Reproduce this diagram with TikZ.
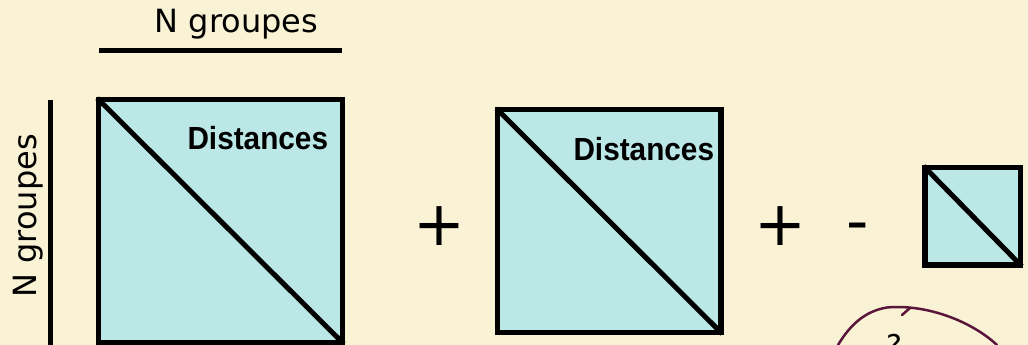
\documentclass[tikz,border=0pt]{standalone}
\usepackage{fontspec}
\setmainfont{DejaVu Sans}
\newfontfamily\helv{Liberation Sans}
\definecolor{bgcream}{RGB}{250,242,212}
\definecolor{cellfill}{RGB}{187,231,231}
\definecolor{penink}{RGB}{90,22,58}
\begin{document}
\begin{tikzpicture}[x=1pt,y=-1pt,
  matbox/.style={draw=black, fill=cellfill, line width=5.5pt, inner sep=0pt, line join=miter},
  diag/.style={line width=5pt, line cap=butt, shorten <=2pt, shorten >=2pt},
  axisline/.style={line width=5pt},
  lbl/.style={font=\fontsize{32}{32}\selectfont, inner sep=0pt, anchor=base},
  dist/.style={font=\helv\bfseries\fontsize{32}{32}\selectfont, inner sep=0pt, anchor=base},
  op/.style={font=\fontsize{62}{62}\selectfont, inner sep=0pt, anchor=base},
]
\fill[bgcream] (0,0) rectangle (1028,345);
\useasboundingbox (0,0) rectangle (1028,345);
\clip (0,0) rectangle (1028,345);

% axes labels and lines
\node[lbl] (topl) at (236.5,32.3) {N groupes};
\coordinate (hl1) at (99,50.7);
\coordinate (hl2) at (342.3,50.7);
\draw[axisline] (hl1) -- (hl2);
\node[lbl, rotate=90] (sidel) at (36,216) {N groupes};
\coordinate (vl1) at (50,100);
\coordinate (vl2) at (50,345);
\draw[axisline] (vl1) -- (vl2);

% matrices
\node[matbox, minimum width=244pt, minimum height=243pt] (m1) at (220.5,221) {};
\draw[diag] (m1.north west) -- (m1.south east);
\node[dist] (d1) at (257.8,149) {\scalebox{0.93}[1]{Distances}};

\node[matbox, minimum width=223.5pt, minimum height=222.8pt] (m2) at (609.25,221.1) {};
\draw[diag] (m2.north west) -- (m2.south east);
\node[dist] (d2) at (643.8,160.7) {\scalebox{0.93}[1]{Distances}};

\node[matbox, minimum width=95.5pt, minimum height=97.5pt] (m3) at (972.75,216.25) {};
\draw[diag] (m3.north west) -- (m3.south east);

% operators
\node[op] (p1) at (439,245.5) {+};
\node[op] (p2) at (780,245.5) {+};
\node[op] (mi) at (857.8,242) {-};

% hand-drawn annotation
\draw[penink, line width=2.5pt, line cap=round]
  (838,345) .. controls (850,325) and (865,311) .. (887,307.5)
  .. controls (925,304) and (970,320) .. (997,345);
\draw[penink, line width=2.5pt, line cap=round] (902,315) -- (910,308);
\node[font=\fontsize{30}{30}\selectfont, inner sep=0pt, anchor=north, text=black] (q) at (894,334) {?};
\end{tikzpicture}
\end{document}
